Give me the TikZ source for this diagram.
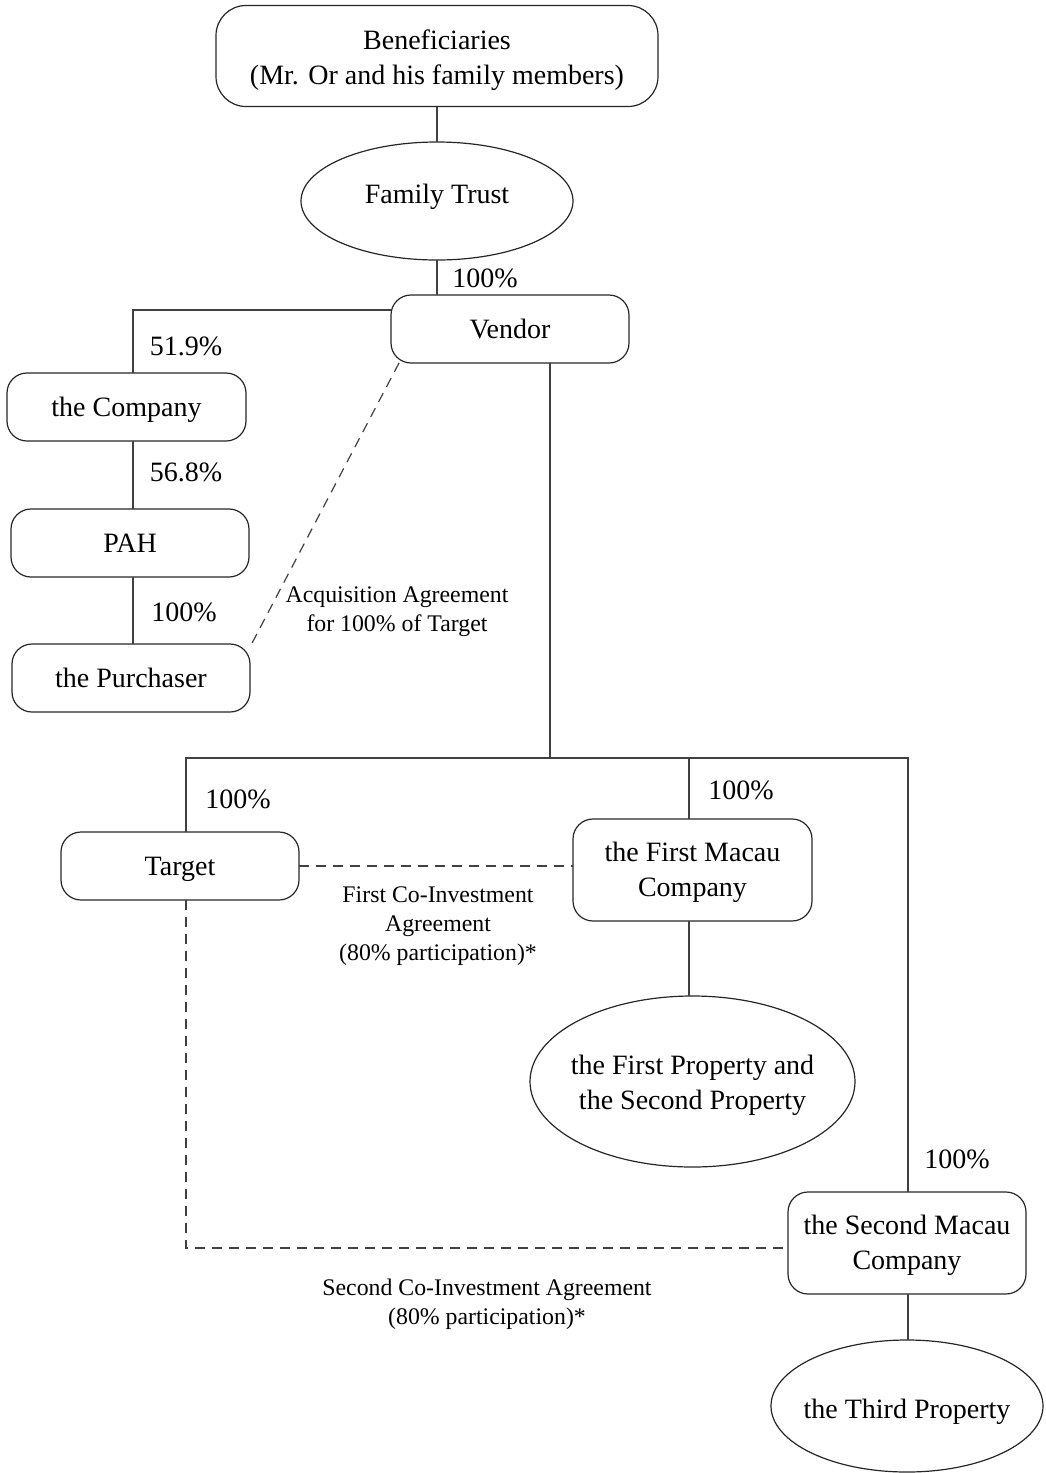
\documentclass[tikz,border=0pt]{standalone}
\usepackage{fontspec}
\setmainfont{Liberation Serif}
\usetikzlibrary{shapes.geometric}
% invisible struts that settle the text inside a shape
\newcommand\tall[1]{\rule{0pt}{#1}}
\newcommand\deep[1]{\rule[-#1]{0pt}{#1}}
\begin{document}
\begin{tikzpicture}[x=1pt,y=-1pt,
  line width=1.2pt,
  every node/.style={inner sep=0pt,outer sep=0pt},
  entity/.style={draw=black!85,rounded corners=20pt,align=center,
    minimum width=238pt,minimum height=68pt,
    font=\fontsize{28}{35}\selectfont},
  holding/.style={draw=black!85,ellipse,align=center,inner xsep=-10pt,inner ysep=0pt,
    font=\fontsize{28}{35}\selectfont},
  pct/.style={font=\fontsize{28}{34}\selectfont},
  agreement/.style={align=center,font=\fontsize{23.8}{29}\selectfont},
  link/.style={draw=black!75},
  deal/.style={draw=black!75,dash pattern=on 10pt off 7pt}]
\useasboundingbox (0,0) rectangle (1045,1473);

% ownership chain above the vendor
\node[entity,rounded corners=30pt,minimum width=442pt,minimum height=101pt] (ben) at (437,56)
  {\tall{29pt}Beneficiaries\\(Mr. Or and his family members)};
\node[holding,minimum width=272pt,minimum height=118pt] (trust) at (437,201) {Family Trust\deep{14pt}};
\node[entity] (vendor) at (510,329) {Vendor};

% listed group on the left
\node[entity,minimum width=239pt] (company) at (126.5,407) {\tall{25pt}the Company};
\node[entity] (pah) at (130,543) {PAH};
\node[entity] (purch) at (131,678) {the Purchaser};

% subsidiaries of the vendor
\node[entity] (target) at (180,866) {\tall{25pt}Target};
\node[entity,minimum width=239pt,minimum height=102pt] (fmc) at (692.5,870) {\tall{25pt}the First Macau\\Company};
\node[holding,minimum width=325pt,minimum height=171pt] (prop12) at (692.5,1081.5)
  {\tall{28pt}the First Property and\\the Second Property};
\node[entity,minimum height=102pt] (smc) at (907,1243) {\tall{25pt}the Second Macau\\Company};
\node[holding,minimum width=272pt,minimum height=132pt] (prop3) at (907,1406) {\tall{31pt}the Third Property};

% routing points
\coordinate (lt) at (133,310);
\coordinate (bus) at (550,758);
\coordinate (busL) at (186,758);
\coordinate (busM) at (689,758);
\coordinate (busR) at (908,758);
\coordinate (dl) at (186,1248);

% solid ownership lines
\draw[link] (ben.south) -- (trust.north);
\draw[link] (trust.south) -- (trust.south |- vendor.north);
\draw[link] (vendor.west |- lt) -- (lt) -- (lt |- company.north);
\draw[link] (lt |- company.south) -- (lt |- pah.north);
\draw[link] (lt |- pah.south) -- (lt |- purch.north);
\draw[link] (bus |- vendor.south) -- (bus);
\draw[link] (busL |- target.north) -- (busL) -- (busR) -- (busR |- smc.north);
\draw[link] (busM) -- (busM |- fmc.north);
\draw[link] (busM |- fmc.south) -- (busM |- prop12.north);
\draw[link] (busR |- smc.south) -- (busR |- prop3.north);

% agreements
\draw[deal] ([xshift=8pt]vendor.south west) -- ([yshift=-3pt]purch.north east);
\draw[deal] (target.east) -- (fmc.west |- target.east);
\draw[deal] (busL |- target.south) -- (dl) -- (smc.west |- dl);

% percentages
\node[pct] (p1) at (485,278) {100\%};
\node[pct] (p2) at (186,346) {51.9\%};
\node[pct] (p3) at (186,472) {56.8\%};
\node[pct] (p4) at (184,612) {100\%};
\node[pct] (p5) at (238,799) {100\%};
\node[pct] (p6) at (741,790) {100\%};
\node[pct] (p7) at (957,1159) {100\%};

% agreement labels
\node[agreement] (acq) at (397,612) {Acquisition Agreement\\for 100\% of Target};
\node[agreement] (co1) at (438,926) {First Co-Investment\\Agreement\\(80\% participation)*};
\node[agreement] (co2) at (487,1304) {Second Co-Investment Agreement\\(80\% participation)*};
\end{tikzpicture}
\end{document}
